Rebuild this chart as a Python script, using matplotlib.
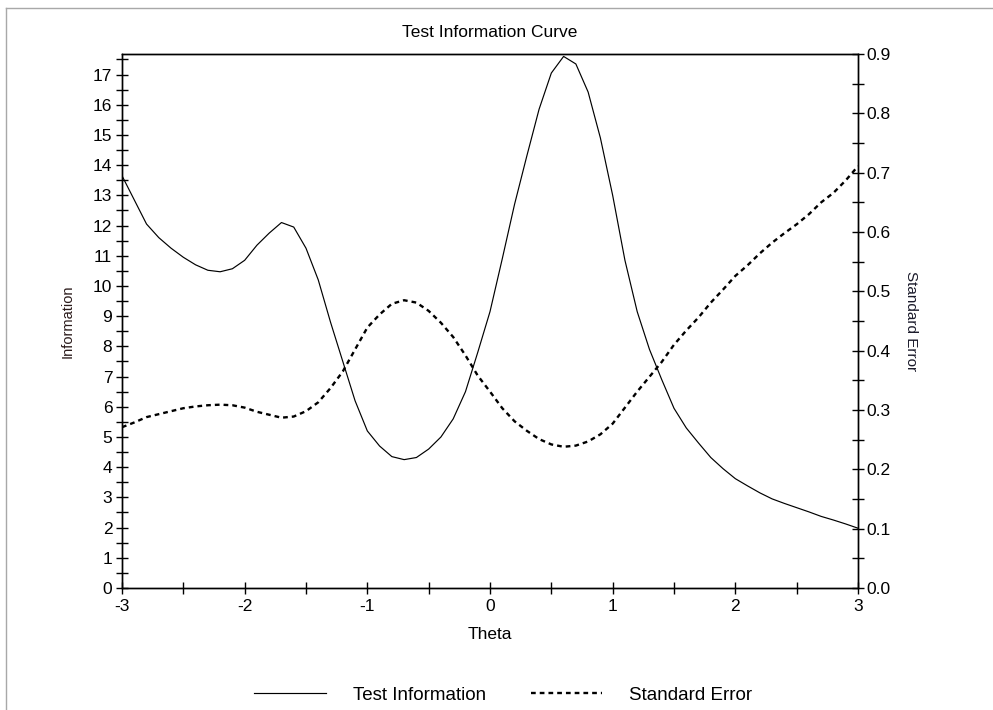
import matplotlib
matplotlib.use("Agg")
import matplotlib.pyplot as plt
from matplotlib.ticker import MultipleLocator, FixedLocator
from matplotlib.lines import Line2D

plt.rcParams['axes.unicode_minus'] = False
plt.rcParams['font.family'] = ['Liberation Sans', 'DejaVu Sans']

# Ability grid and the two curves
theta = [-3.0, -2.9, -2.8, -2.7, -2.6, -2.5, -2.4, -2.3, -2.2, -2.1,
         -2.0, -1.9, -1.8, -1.7, -1.6, -1.5, -1.4, -1.3, -1.2, -1.1,
         -1.0, -0.9, -0.8, -0.7, -0.6, -0.5, -0.4, -0.3, -0.2, -0.1,
         0.0, 0.1, 0.2, 0.3, 0.4, 0.5, 0.6, 0.7, 0.8, 0.9,
         1.0, 1.1, 1.2, 1.3, 1.4, 1.5, 1.6, 1.7, 1.8, 1.9,
         2.0, 2.1, 2.2, 2.3, 2.4, 2.5, 2.6, 2.7, 2.8, 2.9, 3.0]

information = [13.65, 12.85, 12.05, 11.60, 11.25, 10.95, 10.70, 10.52, 10.47, 10.57,
               10.85, 11.35, 11.75, 12.10, 11.95, 11.25, 10.20, 8.80, 7.50, 6.20,
               5.20, 4.70, 4.35, 4.25, 4.32, 4.60, 5.00, 5.60, 6.50, 7.80,
               9.15, 10.90, 12.70, 14.30, 15.85, 17.05, 17.60, 17.35, 16.42, 14.90,
               13.00, 10.85, 9.15, 7.90, 6.90, 5.95, 5.30, 4.80, 4.32, 3.95,
               3.62, 3.38, 3.15, 2.95, 2.80, 2.66, 2.52, 2.37, 2.25, 2.12, 1.98]

std_error = [0.271, 0.279, 0.288, 0.293, 0.298, 0.303, 0.306, 0.308, 0.309, 0.308,
             0.304, 0.297, 0.292, 0.287, 0.289, 0.298, 0.313, 0.337, 0.365, 0.402,
             0.439, 0.461, 0.479, 0.485, 0.481, 0.467, 0.447, 0.423, 0.392, 0.358,
             0.331, 0.303, 0.281, 0.265, 0.251, 0.242, 0.238, 0.240, 0.247, 0.259,
             0.277, 0.304, 0.331, 0.356, 0.381, 0.410, 0.434, 0.456, 0.481, 0.503,
             0.526, 0.544, 0.564, 0.582, 0.598, 0.613, 0.630, 0.650, 0.666, 0.687, 0.711]

x_labels = ['-3', '-2', '-1', '0', '1', '2', '3']
x_label_pos = [-3, -2, -1, 0, 1, 2, 3]

fig = plt.figure(figsize=(9.93, 7.10), dpi=100)
fig.patch.set_facecolor('white')

# window frame lines along the top and left edges
fig.add_artist(Line2D([6 / 993, 1.0], [1 - 8 / 710, 1 - 8 / 710],
                      color='#a8a8a8', lw=1.0, transform=fig.transFigure))
fig.add_artist(Line2D([6 / 993, 6 / 993], [0.0, 1 - 8 / 710],
                      color='#a8a8a8', lw=1.0, transform=fig.transFigure))

ax = fig.add_axes([122 / 993, 1 - 588 / 710, (858 - 122) / 993, (588 - 54) / 710])
ax2 = ax.twinx()

info_line, = ax.plot(theta, information, color='black', lw=0.85)
se_line, = ax2.plot(theta, std_error, color='black', lw=1.7, dashes=(2.0, 1.7))

ax.set_xlim(-3, 3)
ax.set_ylim(0, 17.68)
ax2.set_ylim(0, 0.9)

tick_font = dict(fontsize=12.5)
ax.xaxis.set_major_locator(FixedLocator(x_label_pos))
ax.set_xticklabels(x_labels, **tick_font)
ax.xaxis.set_minor_locator(MultipleLocator(0.5))
ax.yaxis.set_minor_locator(MultipleLocator(0.5))
ax2.yaxis.set_minor_locator(MultipleLocator(0.05))
ax.set_yticks(range(0, 18))
ax.set_yticklabels([str(v) for v in range(0, 18)], **tick_font)
ax2.set_yticks([i / 10 for i in range(10)])
ax2.set_yticklabels([f'{i / 10:.1f}' for i in range(10)], **tick_font)

for a in (ax, ax2):
    a.tick_params(which='both', direction='inout', length=8, width=1.0,
                  color='black')
    for s in a.spines.values():
        s.set_linewidth(1.0)
        s.set_color('black')
ax.tick_params(axis='x', pad=4)
ax.tick_params(axis='y', pad=3)
ax2.tick_params(axis='y', pad=2)

ax.set_xlabel('Theta', fontsize=12.5, labelpad=9)
ax.set_ylabel('Information', fontsize=10.5, labelpad=13, color='#2a1a1a')
ax2.set_ylabel('Standard Error', fontsize=11, rotation=270,
               labelpad=20, color='#1a1a2a')
ax.set_title('Test Information Curve', fontsize=12.5, pad=12)

fig.legend([info_line, se_line], ['Test Information', 'Standard Error'],
           loc='center', bbox_to_anchor=(0.507, 1 - 695 / 710), ncol=2,
           frameon=False, handlelength=3.8, handletextpad=1.45,
           columnspacing=2.4, prop={'size': 13.5})

fig.savefig('out.png', dpi=100, facecolor='white')
